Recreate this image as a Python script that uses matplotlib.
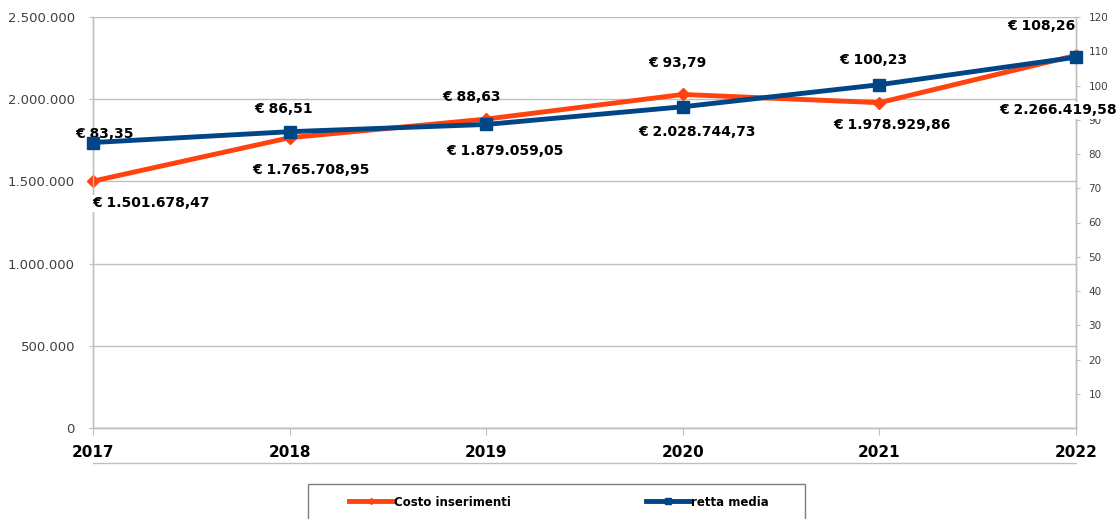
import matplotlib
matplotlib.use("Agg")
import matplotlib.pyplot as plt
from matplotlib.lines import Line2D
from matplotlib.patches import Rectangle
from matplotlib.ticker import FuncFormatter

years = [2017, 2018, 2019, 2020, 2021, 2022]
costo = [1501678.47, 1765708.95, 1879059.05, 2028744.73, 1978929.86, 2266419.58]
retta = [83.35, 86.51, 88.63, 93.79, 100.23, 108.26]
left_ticks = [0, 500000, 1000000, 1500000, 2000000, 2500000]
right_ticks = [10, 20, 30, 40, 50, 60, 70, 80, 90, 100, 110, 120]
series_names = ["Costo inserimenti", "retta media"]

# label offsets in pixels (style only)
costo_off = [(58, -22), (21, -32), (19, -32), (14, -38), (13, -22), (-18, -55)]
retta_off = [(11, 9), (-6, 23), (-15, 27), (-5, 44), (-6, 25), (-35, 31)]

ORANGE = "#FF420E"
BLUE = "#004586"
GRID = "#BFBFBF"
TXT = "#404040"


def it_num(v, dec=0):
    s = f"{v:,.{dec}f}"
    return s.replace(",", "X").replace(".", ",").replace("X", ".")


W, H = 1116, 519
fig = plt.figure(figsize=(W / 100, H / 100), dpi=100)
ax = fig.add_axes([93 / W, 91 / H, (1076 - 93) / W, (428 - 17) / H])
ax2 = ax.twinx()

ax.set_xlim(years[0], years[-1])
ax.set_ylim(0, 2500000)
ax2.set_ylim(0, 120)

ax.plot(years, costo, color=ORANGE, lw=3.5, marker="D", ms=6, zorder=3,
        clip_on=False)
ax2.plot(years, retta, color=BLUE, lw=3.5, marker="s", ms=9, zorder=5,
         clip_on=False)

ax.set_yticks(left_ticks)
ax.yaxis.set_major_formatter(FuncFormatter(lambda v, p: it_num(v)))
ax.set_xticks(years)
ax.set_xticklabels([str(y) for y in years], fontweight="bold", fontsize=11,
                   color="black")
ax.grid(axis="y", color=GRID, lw=1)
ax.set_axisbelow(True)
ax.tick_params(axis="y", length=3, pad=10, labelsize=9.5, labelcolor=TXT,
               color=GRID)
ax.tick_params(axis="x", length=5, pad=7, color=GRID, direction="out")

ax2.set_yticks(right_ticks)
ax2.tick_params(axis="y", length=3, pad=6, labelsize=7.5, labelcolor=TXT,
                color=GRID)

for a in (ax, ax2):
    a.spines["top"].set_visible(False)
    for s in ("left", "right", "bottom"):
        a.spines[s].set_color(GRID)
        a.spines[s].set_linewidth(1)

for x, v, off in zip(years, costo, costo_off):
    ax2.annotate("€ " + it_num(v, 2), xy=(x, v / 2500000 * 120),
                 xytext=off, textcoords="offset pixels", ha="center",
                 va="center", fontsize=10, fontweight="bold", color="black",
                 zorder=4, annotation_clip=False,
                 bbox=dict(fc="white", ec="none", pad=1))
for x, v, off in zip(years, retta, retta_off):
    ax2.annotate("€ " + it_num(v, 2), xy=(x, v), xytext=off,
                 textcoords="offset pixels", ha="center", va="center",
                 fontsize=10, fontweight="bold", color="black", zorder=4,
                 annotation_clip=False)

# separator line below the year labels
fig.add_artist(Line2D([93 / W, 1076 / W], [(H - 463) / H] * 2,
                      color=GRID, lw=1, transform=fig.transFigure))

# legend box
fig.add_artist(Rectangle((308 / W, -0.05), (805 - 308) / W,
                         (H - 484) / H + 0.05, transform=fig.transFigure,
                         fc="white", ec="#7F7F7F", lw=1))
handles = [Line2D([], [], color=ORANGE, lw=3.5, marker="D", ms=3),
           Line2D([], [], color=BLUE, lw=3.5, marker="s", ms=5)]
fig.legend(handles, series_names, loc="center", ncol=2, frameon=False,
           bbox_to_anchor=((353 + 765) / 2 / W, (H - 502) / H),
           prop=dict(weight="bold", size=8.5), handlelength=3.7,
           handletextpad=0.1, columnspacing=11.5)

fig.savefig("out.png", dpi=100)
